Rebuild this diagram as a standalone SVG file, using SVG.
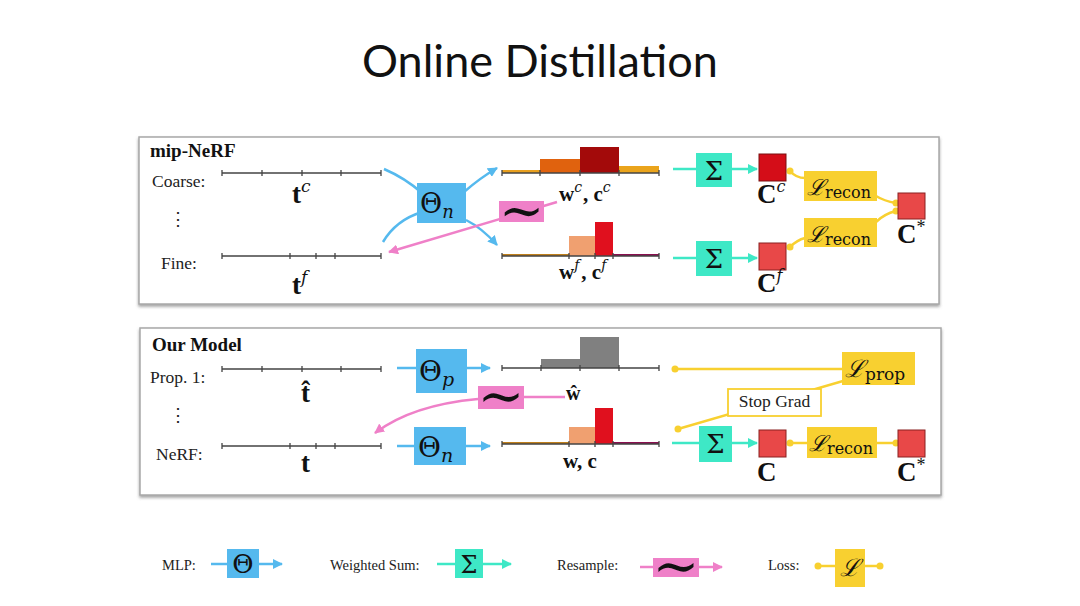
<svg xmlns="http://www.w3.org/2000/svg" width="1080" height="606" viewBox="0 0 1080 606">
<style>
.lbl{font-family:"Liberation Serif","DejaVu Serif",serif;font-size:17.5px;fill:#222}
.lg{font-family:"Liberation Serif","DejaVu Serif",serif;font-size:14.5px;fill:#222}
.hd{font-family:"Liberation Serif","DejaVu Serif",serif;font-size:19px;font-weight:bold;fill:#111}
.mb{font-family:"Liberation Serif","DejaVu Serif",serif;font-weight:bold;fill:#111}
.mi{font-family:"DejaVu Serif","Liberation Serif",serif;fill:#111}
.axis{stroke:#444;stroke-width:1.3;fill:none}
.blue{fill:#55b9ee}
.cyan{fill:#3ee8c6}
.pink{fill:#ef80c8}
.yel{fill:#f8d030}
.bl{stroke:#55b9ee;stroke-width:2.5;fill:none}
.cl{stroke:#3ee8c6;stroke-width:2.5;fill:none}
.pl{stroke:#ef80c8;stroke-width:2.5;fill:none}
.yl{stroke:#f8d030;stroke-width:2.5;fill:none}
.panel{fill:#fff;stroke:#a8a8a8;stroke-width:1.5}
</style>
<defs>
<filter id="sh" x="-5%" y="-5%" width="110%" height="115%"><feDropShadow dx="0" dy="2" stdDeviation="1.5" flood-color="#666" flood-opacity="0.6"/></filter>
<marker id="ab" markerWidth="10" markerHeight="10" refX="9" refY="5" orient="auto" markerUnits="userSpaceOnUse"><path d="M0,0 L10,5 L0,10 z" fill="#55b9ee"/></marker>
<marker id="ac" markerWidth="10" markerHeight="10" refX="9" refY="5" orient="auto" markerUnits="userSpaceOnUse"><path d="M0,0 L10,5 L0,10 z" fill="#3ee8c6"/></marker>
<marker id="ap" markerWidth="10" markerHeight="10" refX="9" refY="5" orient="auto" markerUnits="userSpaceOnUse"><path d="M0,0 L10,5 L0,10 z" fill="#ef80c8"/></marker>
<marker id="dy" markerWidth="8" markerHeight="8" refX="4" refY="4" markerUnits="userSpaceOnUse"><circle cx="4" cy="4" r="3.5" fill="#f8d030"/></marker>
</defs>
<rect width="1080" height="606" fill="#fff"/>
<text x="540" y="77" text-anchor="middle" font-family="Lato,'Open Sans',sans-serif" font-size="45" fill="#111">Online Distillation</text>

<!-- panels -->
<rect id="panel1" class="panel" x="139" y="137" width="800" height="167" filter="url(#sh)"/>
<rect id="panel2" class="panel" x="140" y="328" width="801" height="167" filter="url(#sh)"/>

<!-- connectors -->
<g id="connectors">
  <path class="bl" d="M384,169 Q405,178 422,193"/>
  <path class="bl" d="M383,242 Q396,220 422,212"/>
  <path class="bl" d="M464,192 Q480,178 497,168" marker-end="url(#ab)"/>
  <path class="bl" d="M466,220 Q482,228 497,245" marker-end="url(#ab)"/>
  <path class="pl" d="M557,202 L389,252" marker-end="url(#ap)"/>
  <path class="cl" d="M673,169 L696,169"/>
  <path class="cl" d="M732,169 L757,169" marker-end="url(#ac)"/>
  <path class="cl" d="M673,258 L696,258"/>
  <path class="cl" d="M732,258 L757,258" marker-end="url(#ac)"/>
  <path class="yl" d="M790,171 Q796,178 805,178" marker-start="url(#dy)"/>
  <path class="yl" d="M790,247 Q797,240 805,238" marker-start="url(#dy)"/>
  <path class="yl" d="M876,196 Q884,201 896,203" marker-end="url(#dy)"/>
  <path class="yl" d="M876,222 Q884,214 896,211" marker-end="url(#dy)"/>
  <path class="bl" d="M397,368 L416,368"/>
  <path class="bl" d="M467,368 L490,368" marker-end="url(#ab)"/>
  <path class="bl" d="M397,446 L414,446"/>
  <path class="bl" d="M466,446 L490,446" marker-end="url(#ab)"/>
  <path class="pl" d="M524,397 L565,397"/>
  <path class="pl" d="M478,399 Q412,405 375,433" marker-end="url(#ap)"/>
  <path class="cl" d="M672,443 L699,443"/>
  <path class="cl" d="M732,443 L757,443" marker-end="url(#ac)"/>
  <path class="yl" d="M675,369 L842,369" marker-start="url(#dy)"/>
  <path class="yl" d="M678,429 L843,381" marker-start="url(#dy)"/>
  <path class="yl" d="M790,443 L807,443" marker-start="url(#dy)"/>
  <path class="yl" d="M877,443 L896,443" marker-end="url(#dy)"/>
</g>

<!-- panel 1 -->
<g id="p1-labels">
  <text class="hd" x="150" y="157">mip-NeRF</text>
  <text class="lbl" x="152" y="187">Coarse:</text>
  <text class="lbl" x="178" y="225" text-anchor="middle" font-size="14">⋮</text>
  <text class="lbl" x="161" y="269">Fine:</text>
</g>
<g id="p1-tc">
  <path class="axis" d="M222,173 H381 M222,170 V176 M262,170 V176 M302,170 V176 M341,170 V176 M381,170 V176"/>
  <text class="mb" x="292" y="203" font-size="27">t<tspan class="mi" font-weight="normal" font-style="italic" font-size="17" dy="-11">c</tspan></text>
</g>
<g id="p1-tf">
  <path class="axis" d="M222,256 H381 M222,253 V259 M290,253 V259 M316,253 V259 M335,253 V259 M381,253 V259"/>
  <text class="mb" x="292" y="294" font-size="27">t<tspan class="mi" font-weight="normal" font-style="italic" font-size="17" dy="-11">f</tspan></text>
</g>
<g id="p1-theta">
  <rect class="blue" x="417" y="183" width="49" height="40"/>
  <text class="mi" x="420" y="213" font-size="27">Θ<tspan font-style="italic" font-size="18" dy="5">n</tspan></text>
</g>
<g id="p1-resample">
  <rect class="pink" x="499" y="201" width="45" height="21"/>
  <text class="mi" x="521.5" y="229" text-anchor="middle" font-size="54">∼</text>
</g>
<g id="p1-hist-c">
  <rect x="502" y="170" width="38" height="3" fill="#e8a020"/>
  <rect x="540" y="159" width="40" height="14" fill="#e0620e"/>
  <rect x="580" y="147" width="39" height="26" fill="#a30a0a"/>
  <rect x="619" y="166" width="40" height="7" fill="#eaa41c"/>
  <path class="axis" d="M502,173 H659 M502,170 V176 M540,170 V176 M580,170 V176 M619,170 V176 M659,170 V176"/>
  <text class="mb" x="559" y="201" font-size="21">w<tspan class="mi" font-weight="normal" font-style="italic" font-size="14" dy="-9">c</tspan><tspan dy="9" dx="1">, c</tspan><tspan class="mi" font-weight="normal" font-style="italic" font-size="14" dy="-9">c</tspan></text>
</g>
<g id="p1-hist-f">
  <rect x="502" y="254" width="67" height="2" fill="#c0801c"/>
  <rect x="569" y="236" width="26" height="20" fill="#f0a070"/>
  <rect x="595" y="222" width="18" height="34" fill="#e0101e"/>
  <rect x="613" y="254" width="46" height="2" fill="#8a1050"/>
  <path class="axis" d="M502,256 H659 M502,253 V259 M569,253 V259 M595,253 V259 M613,253 V259 M659,253 V259"/>
  <text class="mb" x="559" y="279" font-size="21">w<tspan class="mi" font-weight="normal" font-style="italic" font-size="14" dy="-9">f</tspan><tspan dy="9" dx="2">, c</tspan><tspan class="mi" font-weight="normal" font-style="italic" font-size="14" dy="-9">f</tspan></text>
</g>
<g id="p1-sum-c">
  <rect class="cyan" x="696" y="153" width="36" height="34"/>
  <text class="mi" x="714" y="180" text-anchor="middle" font-size="26">Σ</text>
</g>
<g id="p1-sum-f">
  <rect class="cyan" x="696" y="241" width="36" height="35"/>
  <text class="mi" x="714" y="268" text-anchor="middle" font-size="26">Σ</text>
</g>
<g id="p1-Cc">
  <rect x="759" y="154" width="27" height="27" fill="#d40d18" stroke="#7a1010" stroke-width="1"/>
  <text class="mb" x="757" y="203" font-size="27">C<tspan class="mi" font-weight="normal" font-style="italic" font-size="16" dy="-11">c</tspan></text>
</g>
<g id="p1-Cf">
  <rect x="759" y="243" width="27" height="27" fill="#e84848" stroke="#8a2020" stroke-width="1"/>
  <text class="mb" x="757" y="292" font-size="27">C<tspan class="mi" font-weight="normal" font-style="italic" font-size="16" dy="-11">f</tspan></text>
</g>
<g id="p1-loss1">
  <rect class="yel" x="804" y="171" width="73" height="30"/>
  <text class="mi" x="807" y="195" font-size="22" font-style="italic">ℒ<tspan font-style="normal" font-size="16" dy="3">recon</tspan></text>
</g>
<g id="p1-loss2">
  <rect class="yel" x="804" y="218" width="73" height="29"/>
  <text class="mi" x="807" y="242" font-size="22" font-style="italic">ℒ<tspan font-style="normal" font-size="16" dy="3">recon</tspan></text>
</g>
<g id="p1-Cstar">
  <rect x="898" y="193" width="27" height="26" fill="#e84848" stroke="#8a2020" stroke-width="1"/>
  <text class="mb" x="897" y="243" font-size="27">C<tspan font-weight="normal" font-size="18" dy="-10">*</tspan></text>
</g>

<!-- panel 2 -->
<g id="p2-labels">
  <text class="hd" x="152" y="351">Our Model</text>
  <text class="lbl" x="150" y="383">Prop. 1:</text>
  <text class="lbl" x="178" y="421" text-anchor="middle" font-size="14">⋮</text>
  <text class="lbl" x="156" y="460">NeRF:</text>
</g>
<g id="p2-that">
  <path class="axis" d="M222,369 H381 M222,366 V372 M262,366 V372 M302,366 V372 M341,366 V372 M381,366 V372"/>
  <text class="mb" x="301" y="402" font-size="27">t̂</text>
</g>
<g id="p2-t">
  <path class="axis" d="M222,446 H381 M222,443 V449 M290,443 V449 M316,443 V449 M335,443 V449 M381,443 V449"/>
  <text class="mb" x="301" y="472" font-size="27">t</text>
</g>
<g id="p2-thetap">
  <rect class="blue" x="416" y="349" width="51" height="44"/>
  <text class="mi" x="419" y="381" font-size="28">Θ<tspan font-style="italic" font-size="19" dy="5">p</tspan></text>
</g>
<g id="p2-thetan">
  <rect class="blue" x="414" y="427" width="52" height="38"/>
  <text class="mi" x="418" y="457" font-size="28">Θ<tspan font-style="italic" font-size="19" dy="5">n</tspan></text>
</g>
<g id="p2-resample">
  <rect class="pink" x="478" y="386" width="46" height="23"/>
  <text class="mi" x="501" y="415" text-anchor="middle" font-size="56">∼</text>
</g>
<g id="p2-hist-p">
  <rect x="541" y="359" width="39" height="9" fill="#808080"/>
  <rect x="580" y="337" width="39" height="31" fill="#808080"/>
  <path class="axis" d="M502,368 H659 M502,365 V371 M541,365 V371 M580,365 V371 M619,365 V371 M659,365 V371"/>
  <text class="mb" x="566" y="400" font-size="20">ŵ</text>
</g>
<g id="p2-hist-n">
  <rect x="502" y="442" width="67" height="2" fill="#c0801c"/>
  <rect x="569" y="427" width="26" height="17" fill="#f0a070"/>
  <rect x="595" y="408" width="18" height="36" fill="#e0101e"/>
  <rect x="613" y="442" width="46" height="2" fill="#8a1050"/>
  <path class="axis" d="M502,444 H659 M502,441 V447 M569,441 V447 M595,441 V447 M613,441 V447 M659,441 V447"/>
  <text class="mb" x="563" y="468" font-size="21">w, c</text>
</g>
<g id="p2-lprop">
  <rect class="yel" x="842" y="352" width="73" height="33"/>
  <text class="mi" x="845" y="377" font-size="24" font-style="italic">ℒ<tspan font-style="normal" font-size="17" dy="3">prop</tspan></text>
</g>
<g id="p2-stopgrad">
  <rect x="728" y="389" width="93" height="27" fill="#fff" stroke="#f8d030" stroke-width="1.8"/>
  <text class="lbl" x="774.5" y="407" text-anchor="middle" font-size="12.5">Stop Grad</text>
</g>
<g id="p2-sum">
  <rect class="cyan" x="699" y="426" width="33" height="36"/>
  <text class="mi" x="715.5" y="453" text-anchor="middle" font-size="26">Σ</text>
</g>
<g id="p2-C">
  <rect x="759" y="430" width="27" height="27" fill="#e84848" stroke="#8a2020" stroke-width="1"/>
  <text class="mb" x="757" y="481" font-size="27">C</text>
</g>
<g id="p2-loss">
  <rect class="yel" x="807" y="427" width="70" height="31"/>
  <text class="mi" x="809" y="451" font-size="22" font-style="italic">ℒ<tspan font-style="normal" font-size="16" dy="3">recon</tspan></text>
</g>
<g id="p2-Cstar">
  <rect x="898" y="430" width="27" height="27" fill="#e84848" stroke="#8a2020" stroke-width="1"/>
  <text class="mb" x="897" y="481" font-size="27">C<tspan font-weight="normal" font-size="18" dy="-10">*</tspan></text>
</g>

<!-- legend -->
<g id="legend-mlp">
  <text class="lg" x="162" y="570">MLP:</text>
  <path class="bl" d="M211,564 L227,564"/>
  <rect class="blue" x="227" y="549" width="32" height="29"/>
  <text class="mi" x="243" y="573" text-anchor="middle" font-size="26">Θ</text>
  <path class="bl" d="M259,564 L282,564" marker-end="url(#ab)"/>
</g>
<g id="legend-sum">
  <text class="lg" x="330" y="570">Weighted Sum:</text>
  <path class="cl" d="M437,564 L455,564"/>
  <rect class="cyan" x="455" y="549" width="28" height="29"/>
  <text class="mi" x="469" y="573" text-anchor="middle" font-size="24">Σ</text>
  <path class="cl" d="M483,564 L511,564" marker-end="url(#ac)"/>
</g>
<g id="legend-resample">
  <text class="lg" x="557" y="570">Resample:</text>
  <path class="pl" d="M640,567 L653,567"/>
  <rect class="pink" x="653" y="558" width="46" height="19"/>
  <text class="mi" x="676" y="585" text-anchor="middle" font-size="56">∼</text>
  <path class="pl" d="M699,567 L722,567" marker-end="url(#ap)"/>
</g>
<g id="legend-loss">
  <text class="lg" x="768" y="570">Loss:</text>
  <path class="yl" d="M818,566 L835,566" marker-start="url(#dy)"/>
  <rect class="yel" x="835" y="549" width="30" height="38"/>
  <text class="mi" x="850" y="576" text-anchor="middle" font-size="24" font-style="italic">ℒ</text>
  <path class="yl" d="M865,566 L880,566" marker-end="url(#dy)"/>
</g>
</svg>
